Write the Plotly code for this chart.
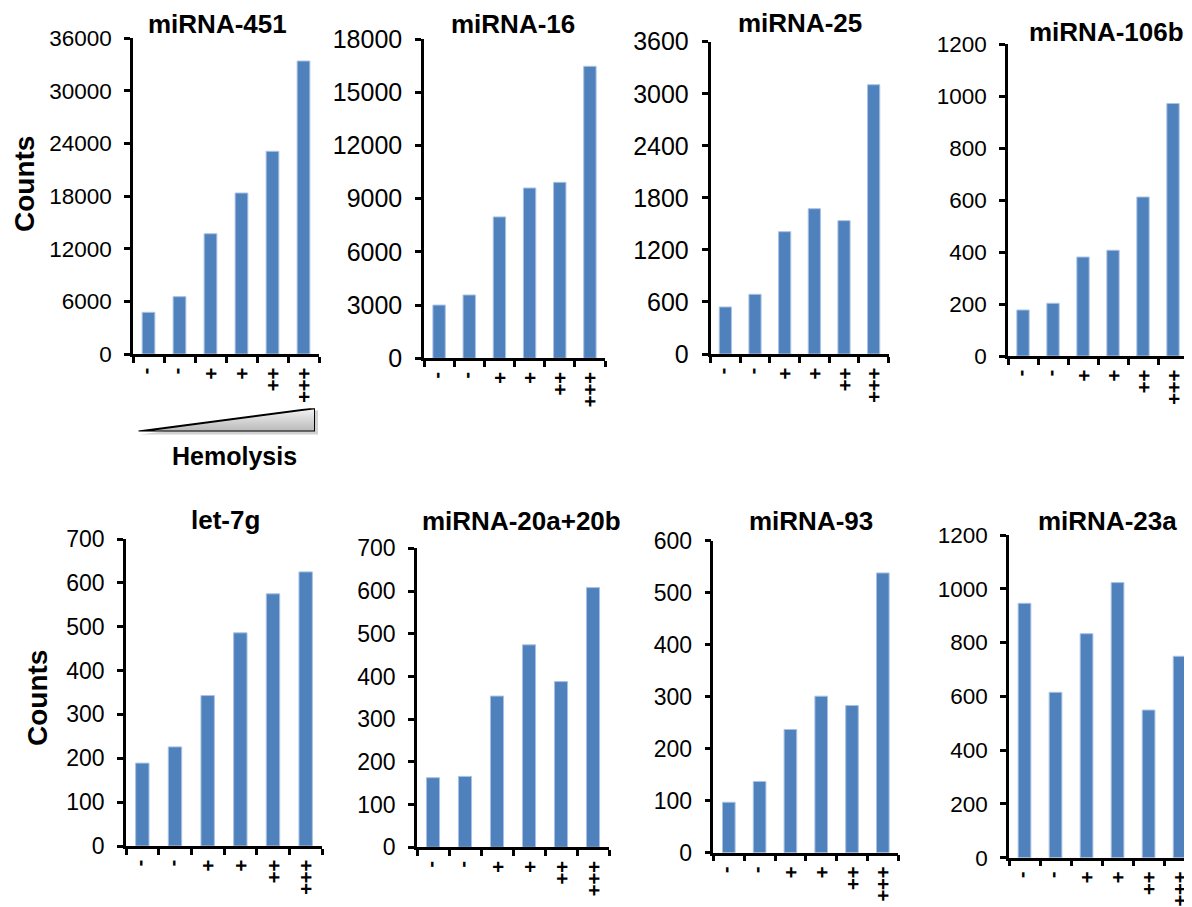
import plotly.graph_objects as go

# ---------------- data ----------------
categories = ["-", "-", "+", "+", "++", "+++"]
titles = ["miRNA-451", "miRNA-16", "miRNA-25", "miRNA-106b",
          "let-7g", "miRNA-20a+20b", "miRNA-93", "miRNA-23a"]
mir451 = [4750, 6530, 13700, 18340, 23090, 33380]
mir16 = [3000, 3570, 7970, 9600, 9920, 16460]
mir25 = [542, 688, 1410, 1675, 1537, 3104]
mir106b = [177, 203, 381, 407, 612, 972]
let7g = [189, 226, 343, 486, 575, 625]
mir20ab = [163, 166, 354, 474, 388, 608]
mir93 = [97, 137, 237, 301, 283, 538]
mir23a = [946, 615, 833, 1023, 549, 749]
y_max = [36000, 18000, 3600, 1200, 700, 700, 600, 1200]
y_step = [6000, 3000, 600, 200, 100, 100, 100, 200]
y_label = "Counts"
hemolysis_label = "Hemolysis"

series = [mir451, mir16, mir25, mir106b, let7g, mir20ab, mir93, mir23a]

# ---------------- layout geometry (pixels, reference image coords) ----------------
OFF = 8                      # page body margin
W, H = 1192 - OFF, 907 - OFF
FONT = "Liberation Sans, Arial, Helvetica, sans-serif"
BAR = "#4F81BD"

panels = [
    (133, 319, 38, 354),
    (424, 605, 39, 358.3),
    (710.5, 888.5, 41.7, 354),
    (1008, 1188, 44.3, 356),
    (126, 322, 539, 846),
    (417, 609, 548.3, 847.3),
    (713.4, 898.2, 540.7, 852.7),
    (1009, 1192, 535, 857.7),
]
x_ranges = [[-0.5, 5.5]] * 7 + [[-0.5, 5.4]]
tick_sizes = [22.5, 25, 25, 22.5, 23, 23, 23, 22.5]
title_pos = [(217.5, 24), (512.5, 23.5), (800, 23), (1106, 32),
             (225, 520), (521, 521), (811, 521), (1107, 521)]


def fx(px):
    return (px - OFF) / W


def fy(py):
    return 1 - (py - OFF) / H


fig = go.Figure()
xs = list(range(len(categories)))

layout = dict(
    template="none",
    width=W, height=H,
    margin=dict(l=0, r=0, t=0, b=0, autoexpand=False),
    paper_bgcolor="white", plot_bgcolor="white",
    showlegend=False,
    bargap=0.59,
    font=dict(family=FONT, color="black"),
    annotations=[], shapes=[],
)

for i, vals in enumerate(series):
    n = "" if i == 0 else str(i + 1)
    fig.add_trace(go.Bar(
        x=xs, y=vals, xaxis="x" + n, yaxis="y" + n,
        marker=dict(color=BAR, line=dict(color="#A9C2E3", width=1)),
        hoverinfo="y",
    ))
    xl, xr, yt, yb = panels[i]
    layout["xaxis" + n] = dict(
        domain=[fx(xl), min(1, fx(xr))], anchor="y" + n,
        range=x_ranges[i], showgrid=False, zeroline=False, automargin=False,
        showline=True, linecolor="black", linewidth=2.5,
        tickmode="array", tickvals=xs, ticktext=categories,
        ticks="", tickangle=90,
        tickfont=dict(family=FONT, size=20, color="black", weight="bold"),
        ticklabelstandoff=7,
        minor=dict(tickmode="linear", tick0=-0.5, dtick=1, ticks="outside",
                   ticklen=6, tickwidth=2.5, tickcolor="black", showgrid=False),
        fixedrange=True,
    )
    layout["yaxis" + n] = dict(
        domain=[fy(yb), fy(yt)], anchor="x" + n,
        range=[0, y_max[i]], dtick=y_step[i], tick0=0, tickformat="d",
        showgrid=False, zeroline=False, automargin=False,
        showline=True, linecolor="black", linewidth=2.5,
        ticks="outside", ticklen=6, tickwidth=2.5, tickcolor="black",
        tickfont=dict(family=FONT, size=tick_sizes[i], color="black"),
        ticklabelstandoff=8,
        fixedrange=True,
    )
    tx, ty = title_pos[i]
    layout["annotations"].append(dict(
        text="<b>%s</b>" % titles[i], xref="paper", yref="paper",
        x=fx(tx), y=fy(ty), xanchor="center", yanchor="middle",
        showarrow=False, font=dict(family=FONT, size=26, color="black"),
    ))

# y-axis labels
for (cx, cy) in [(24, 184), (37, 698)]:
    layout["annotations"].append(dict(
        text="<b>%s</b>" % y_label, xref="paper", yref="paper",
        x=fx(cx), y=fy(cy), xanchor="center", yanchor="middle",
        textangle=-90, showarrow=False,
        font=dict(family=FONT, size=28, color="black"),
    ))

# Hemolysis wedge (decorative) on its own hidden axes
tri_l, tri_r, tri_t, tri_b = 138.3, 315, 408.3, 431.5
layout["xaxis9"] = dict(domain=[fx(tri_l), fx(tri_r)], range=[0, 1], visible=False,
                        anchor="y9", fixedrange=True, automargin=False)
layout["yaxis9"] = dict(domain=[fy(tri_b), fy(tri_t)], range=[0, 1], visible=False,
                        anchor="x9", fixedrange=True, automargin=False)
layout["shapes"].append(dict(
    type="path", xref="paper", yref="paper", layer="below",
    path="M %f %f L %f %f L %f %f Z" % (fx(tri_l + 2), fy(tri_b + 3), fx(tri_r + 3), fy(tri_b + 3),
                                        fx(tri_r + 3), fy(tri_t + 2)),
    fillcolor="rgba(0,0,0,0.18)", line=dict(width=0),
))
fig.add_trace(go.Scatter(
    x=[0, 1, 1, 0], y=[0, 0, 1, 0], xaxis="x9", yaxis="y9",
    mode="lines", fill="toself",
    fillgradient=dict(type="vertical",
                      colorscale=[[0, "#b8b8b8"], [1, "#f4f4f4"]]),
    line=dict(color="black", width=2), hoverinfo="skip",
))
layout["annotations"].append(dict(
    text="<b>%s</b>" % hemolysis_label, xref="paper", yref="paper",
    x=fx(234), y=fy(456), xanchor="center", yanchor="middle",
    showarrow=False, font=dict(family=FONT, size=25, color="black"),
))

fig.update_layout(**layout)
fig.write_html("out.html")
